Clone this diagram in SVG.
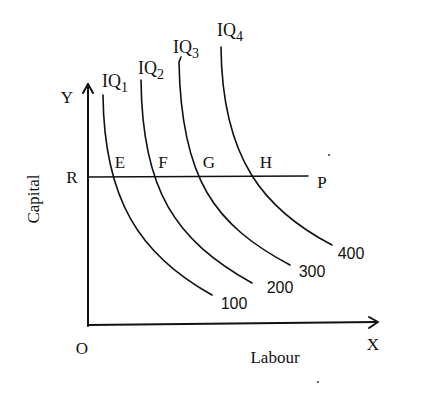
<svg xmlns="http://www.w3.org/2000/svg" width="423" height="404" viewBox="0 0 423 404">
<style>
.ln{fill:none;stroke:#111;stroke-width:1.6;stroke-linecap:round;stroke-linejoin:round}
.ax{fill:none;stroke:#111;stroke-width:2;stroke-linecap:round;stroke-linejoin:round}
.t{font-family:"Liberation Serif","Times New Roman",serif;font-size:17px;fill:#111}
.iq{font-family:"Liberation Serif","Times New Roman",serif;font-size:18px;fill:#111}
.n{font-family:"Liberation Sans",Arial,sans-serif;font-size:16px;fill:#111}
</style>
<rect width="423" height="404" fill="#fff"/>
<g id="axes">
<path class="ax" d="M88,326 L88,84"/>
<path class="ax" d="M83,93 L88,84 L93,93"/>
<path class="ax" d="M88,325 L377,322"/>
<path class="ax" d="M369,317 L378,322 L369,328"/>
</g>
<g id="connectors">
<path class="ln" d="M88,177 L308,176"/>
</g>
<g id="IQ1">
<path class="ln" d="M103,95 C104,200 140,255 212,295"/>
<text class="iq" x="102" y="87">IQ<tspan font-size="14" dy="5">1</tspan></text>
<text class="n" x="234" y="309" text-anchor="middle">100</text>
</g>
<g id="IQ2">
<path class="ln" d="M141,80 C142,190 175,240 252,283"/>
<text class="iq" x="138" y="74">IQ<tspan font-size="14" dy="5">2</tspan></text>
<text class="n" x="280" y="293" text-anchor="middle">200</text>
</g>
<g id="IQ3">
<path class="ln" d="M181,57 L179,62 C181,180 215,225 290,265"/>
<text class="iq" x="173" y="53">IQ<tspan font-size="14" dy="5">3</tspan></text>
<text class="n" x="312" y="277" text-anchor="middle">300</text>
</g>
<g id="IQ4">
<path class="ln" d="M221,47 C222,160 265,210 332,245"/>
<text class="iq" x="217" y="36">IQ<tspan font-size="14" dy="5">4</tspan></text>
<text class="n" x="351" y="259" text-anchor="middle">400</text>
</g>
<g id="labels">
<text class="t" x="67" y="103" text-anchor="middle">Y</text>
<text class="t" x="72" y="183" text-anchor="middle">R</text>
<text class="t" x="82" y="354" text-anchor="middle">O</text>
<text class="t" x="373" y="350" text-anchor="middle">X</text>
<text class="t" x="322" y="188" text-anchor="middle">P</text>
<text class="t" x="120" y="168" text-anchor="middle">E</text>
<text class="t" x="163" y="168" text-anchor="middle">F</text>
<text class="t" x="209" y="168" text-anchor="middle">G</text>
<text class="t" x="266" y="168" text-anchor="middle">H</text>
<text class="t" x="275" y="363" text-anchor="middle" font-size="18">Labour</text>
<text class="t" transform="translate(39,199) rotate(-90)" text-anchor="middle" font-size="17">Capital</text>
</g>
<g id="dots" fill="#333">
<circle cx="329" cy="155" r="1"/>
<circle cx="318" cy="382" r="1"/>
</g>
</svg>
